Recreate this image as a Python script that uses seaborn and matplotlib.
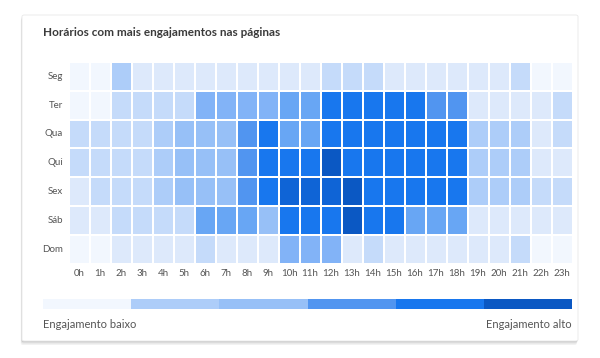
import numpy as np
import pandas as pd
import matplotlib.pyplot as plt
import seaborn as sns
from matplotlib.colors import ListedColormap
from matplotlib.patches import FancyBboxPatch

sns.set_theme(style="white")
plt.rcParams['font.family'] = ['Lato', 'DejaVu Sans']

days = ["Seg", "Ter", "Qua", "Qui", "Sex", "Sáb", "Dom"]
hours = [f"{h}h" for h in range(24)]

# engagement level per hour (0 = very low .. 10 = very high)
seg = [0, 0, 3, 1, 1, 1, 1, 1, 1, 1, 1, 1, 2, 2, 2, 1, 1, 1, 1, 1, 1, 2, 0, 0]
ter = [0, 0, 2, 2, 2, 2, 5, 5, 5, 5, 6, 6, 8, 8, 8, 8, 8, 7, 7, 1, 1, 1, 1, 2]
qua = [2, 2, 2, 2, 3, 4, 4, 4, 7, 8, 6, 6, 8, 8, 8, 8, 8, 8, 8, 3, 3, 3, 1, 2]
qui = [2, 2, 2, 2, 3, 4, 4, 4, 7, 8, 8, 8, 10, 8, 8, 8, 8, 8, 8, 3, 3, 3, 1, 1]
sex = [1, 2, 2, 2, 3, 4, 4, 4, 7, 8, 9, 9, 9, 10, 8, 8, 8, 8, 8, 3, 3, 3, 2, 2]
sab = [1, 1, 2, 2, 2, 2, 6, 6, 6, 4, 8, 8, 8, 10, 8, 8, 6, 6, 6, 1, 1, 1, 1, 1]
dom = [0, 0, 1, 1, 1, 1, 2, 1, 1, 1, 5, 5, 5, 1, 2, 1, 1, 1, 1, 1, 1, 2, 0, 0]

level_colors = ["#f2f7fe", "#dde9fb", "#c5dbfa", "#adcdf9", "#97c0f7", "#82b3f7",
                "#68a6f4", "#5195f0", "#1877ee", "#0f64d6", "#0b58c3"]
legend_levels = [0, 3, 4, 7, 8, 10]

df = pd.DataFrame([seg, ter, qua, qui, sex, sab, dom], index=days, columns=hours)
cmap = ListedColormap(level_colors)

fig = plt.figure(figsize=(6, 3.58), dpi=100)

# card background with soft shadow
W, H = 600, 358
for off, a in [(4, 0.05), (2.5, 0.07), (1.2, 0.10)]:
    fig.patches.append(FancyBboxPatch(
        ((22 - off * 0.3) / W, 1 - (341 + off) / H), 556 / W, 326 / H,
        boxstyle="round,pad=0,rounding_size=0.004", transform=fig.transFigure,
        facecolor="#000000", alpha=a, edgecolor="none", zorder=0))
fig.patches.append(FancyBboxPatch(
    (22 / W, 1 - 341 / H), 556 / W, 326 / H,
    boxstyle="round,pad=0,rounding_size=0.004", transform=fig.transFigure,
    facecolor="white", edgecolor="#e8e8e8", linewidth=0.6, zorder=1))

fig.text(43 / W, 1 - 32.5 / H, "Horários com mais engajamentos nas páginas",
         fontsize=8.5, fontweight="bold", color="#3a3a3a", va="center", ha="left")

ax = fig.add_axes([68.5 / W, 1 - 263.5 / H, 504 / W, 201.5 / H])
ax.set_zorder(2)
sns.heatmap(df, ax=ax, cmap=cmap, vmin=-0.5, vmax=10.5, cbar=False,
            linewidths=1.2, linecolor="white", square=False)
ax.set_xlabel("")
ax.set_ylabel("")
ax.tick_params(axis="both", length=0, labelsize=7, colors="#555555", pad=4)
ax.set_yticklabels(days, rotation=0)
ax.set_xticklabels(hours, rotation=0)

# legend bar
lax = fig.add_axes([43 / W, 1 - 309 / H, 529 / W, 10 / H])
lax.set_zorder(2)
sns.heatmap(pd.DataFrame([legend_levels]), ax=lax, cmap=cmap, vmin=-0.5, vmax=10.5,
            cbar=False, xticklabels=False, yticklabels=False)
lax.set_xlabel("")
lax.set_ylabel("")

fig.text(43 / W, 1 - 324 / H, "Engajamento baixo", fontsize=8, color="#555555",
         va="center", ha="left", zorder=3)
fig.text(572 / W, 1 - 324 / H, "Engajamento alto", fontsize=8, color="#555555",
         va="center", ha="right", zorder=3)

fig.savefig("out.png", dpi=100, facecolor="white")
